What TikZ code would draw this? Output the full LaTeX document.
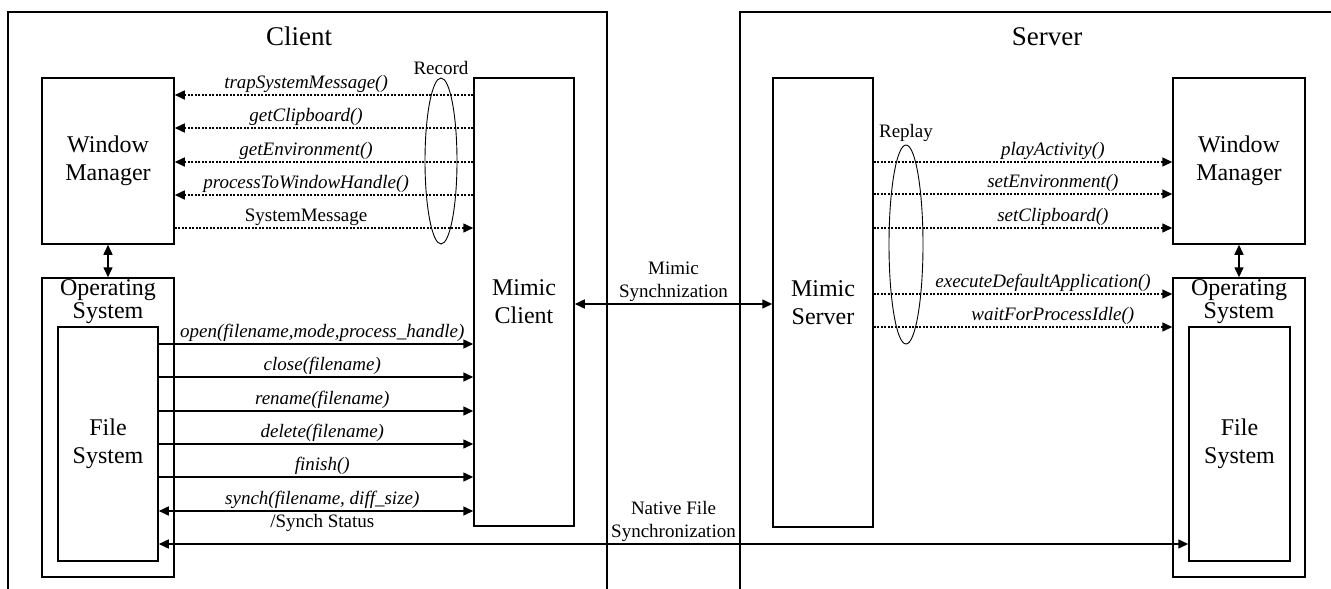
\documentclass[tikz,border=0pt]{standalone}
\usepackage{fontspec}
\setmainfont{Liberation Serif}
\usetikzlibrary{arrows.meta, positioning, shapes.geometric}

\newcommand{\lblfont}{\fontsize{19}{23}\selectfont}
\newcommand{\boxfont}{\fontsize{24}{28}\selectfont}
\newcommand{\osfont}{\fontsize{24}{23}\selectfont}
\newcommand{\titlefont}{\fontsize{27}{32}\selectfont}

\begin{document}
\begin{tikzpicture}[x=1pt, y=-1pt,
    blk/.style={draw, line width=1.5pt, align=center, font=\boxfont},
    oslbl/.style={anchor=north, align=center, font=\osfont, inner sep=2pt},
    call/.style={line width=1.5pt, -{Triangle[length=10pt,width=9pt]}},
    dcall/.style={line width=1.5pt, {Triangle[length=10pt,width=9pt]}-{Triangle[length=10pt,width=9pt]}},
    trap/.style={call, dash pattern=on 2pt off 1.5pt},
    lbl/.style={font=\lblfont, align=center, inner sep=1.5pt},
    ring/.style={draw, ellipse, line width=0.9pt, inner sep=0pt}]
    \useasboundingbox (0,0) rectangle (1331,589);

    % Client and server frames, open at the bottom
    \draw[line width=1.5pt] (8,589) -- (8,12) -- (607,12) -- (607,589);
    \draw[line width=1.5pt] (740,589) -- (740,12) -- (1331,12);
    \node[font=\titlefont] (ctitle) at (299,36) {Client};
    \node[font=\titlefont] (stitle) at (1047,37) {Server};

    % Client blocks
    \node[blk, minimum width=132pt, minimum height=166pt] (cwm) at (108,161) {Window\\Manager};
    \node[blk, minimum width=132pt, minimum height=299pt] (cos) at (108,427.5) {};
    \node[oslbl] (coslbl) at (cos.north) {Operating\\System};
    \node[blk, minimum width=100pt, minimum height=234pt] (cfs) at (108,444) {File\\System};
    \node[blk, minimum width=100pt, minimum height=448pt] (cmc) at (524,302) {Mimic\\Client};
    \draw[dcall] (cwm.south) -- (cos.north);

    % Server blocks
    \node[blk, minimum width=100pt, minimum height=449pt] (sms) at (823,302.5) {Mimic\\Server};
    \node[blk, minimum width=132pt, minimum height=166pt] (swm) at (1239,161) {Window\\Manager};
    \node[blk, minimum width=132pt, minimum height=299pt] (sos) at (1239,427.5) {};
    \node[oslbl] (soslbl) at (sos.north) {Operating\\System};
    \node[blk, minimum width=101pt, minimum height=234pt] (sfs) at (1239.5,444) {File\\System};
    \draw[dcall] (swm.south) -- (sos.north);

    % Record loop
    \draw[trap] (cmc.west |- 0,95) -- node[lbl, above, pos=0.56] {\textit{trapSystemMessage()}} (cwm.east |- 0,95);
    \draw[trap] (cmc.west |- 0,128) -- node[lbl, above, pos=0.56] {\textit{getClipboard()}} (cwm.east |- 0,128);
    \draw[trap] (cmc.west |- 0,162) -- node[lbl, above, pos=0.56] {\textit{getEnvironment()}} (cwm.east |- 0,162);
    \draw[trap] (cmc.west |- 0,195) -- node[lbl, above, pos=0.56] {\textit{processToWindowHandle()}} (cwm.east |- 0,195);
    \draw[trap] (cwm.east |- 0,228) -- node[lbl, above, pos=0.44] {SystemMessage} (cmc.west |- 0,228);
    \node[ring, minimum width=32pt, minimum height=166pt] (rec) at (441,161) {};
    \node[lbl, above=1pt of rec] (reclbl) {Record};

    % File system calls
    \draw[call] (cfs.east |- 0,344) -- node[lbl, above, pos=0.52] {\textit{open(filename,mode,process\_handle)}} (cmc.west |- 0,344);
    \draw[call] (cfs.east |- 0,377) -- node[lbl, above, pos=0.52] {\textit{close(filename)}} (cmc.west |- 0,377);
    \draw[call] (cfs.east |- 0,411) -- node[lbl, above, pos=0.52] {\textit{rename(filename)}} (cmc.west |- 0,411);
    \draw[call] (cfs.east |- 0,444) -- node[lbl, above, pos=0.52] {\textit{delete(filename)}} (cmc.west |- 0,444);
    \draw[call] (cfs.east |- 0,477) -- node[lbl, above, pos=0.52] {\textit{finish()}} (cmc.west |- 0,477);
    \draw[dcall] (cfs.east |- 0,511) -- node[lbl, above, pos=0.52] {\textit{synch(filename, diff\_size)}}
        node[lbl, below, pos=0.52, inner sep=3pt] {/Synch Status} (cmc.west |- 0,511);

    % Links between client and server
    \draw[dcall] (cmc.east |- 0,304) -- node[lbl, above] {Mimic\\Synchnization} (sms.west |- 0,304);
    \draw[dcall] (cfs.east |- 0,544) -- node[lbl, above, pos=0.5] {Native File\\Synchronization} (sfs.west |- 0,544);

    % Replay loop
    \draw[trap] (sms.east |- 0,162) -- node[lbl, above, pos=0.6] {\textit{playActivity()}} (swm.west |- 0,162);
    \draw[trap] (sms.east |- 0,194) -- node[lbl, above, pos=0.6] {\textit{setEnvironment()}} (swm.west |- 0,194);
    \draw[trap] (sms.east |- 0,228) -- node[lbl, above, pos=0.6] {\textit{setClipboard()}} (swm.west |- 0,228);
    \draw[trap] (sms.east |- 0,294) -- node[lbl, above, pos=0.567] {\textit{executeDefaultApplication()}} (sos.west |- 0,294);
    \draw[trap] (sms.east |- 0,327) -- node[lbl, above, pos=0.6] {\textit{waitForProcessIdle()}} (sos.west |- 0,327);
    \node[ring, minimum width=34pt, minimum height=199pt] (rep) at (906,244.5) {};
    \node[lbl, above=1pt of rep] (replbl) {Replay};
\end{tikzpicture}
\end{document}
